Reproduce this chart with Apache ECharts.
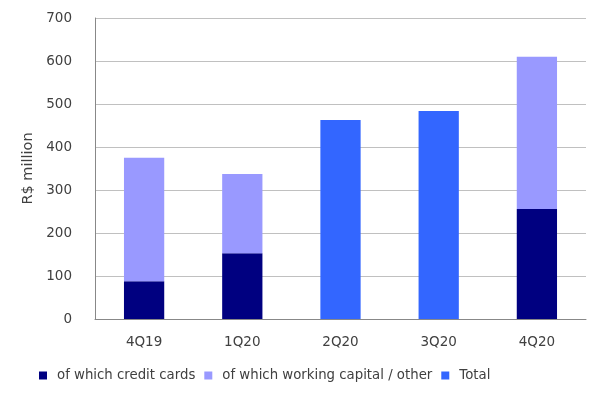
<!DOCTYPE html>
<html><head><meta charset="utf-8">
<script src="https://cdn.jsdelivr.net/npm/echarts@6/dist/echarts.min.js"></script>
<style>html,body{margin:0;padding:0;background:#fff}#c{width:604px;height:399px}</style>
</head><body><div id="c"></div>
<script>
const categories = ['4Q19', '1Q20', '2Q20', '3Q20', '4Q20'];
const creditCards = [88, 153, null, null, 256];
const workingCapital = [287, 184, null, null, 354];
const total = [null, null, 463, 484, null];
const yTicks = [0, 100, 200, 300, 400, 500, 600, 700];

const font = 'DejaVu Sans';
const chart = echarts.init(document.getElementById('c'));
chart.setOption({
  animation: false,
  textStyle: { fontFamily: font },
  grid: { left: 95, right: 18, top: 18, bottom: 80 },
  legend: {
    bottom: 12, left: 34, itemWidth: 8, itemHeight: 8, itemGap: 9,
    icon: 'rect',
    textStyle: { fontFamily: font, fontSize: 13.3, color: '#404040', padding: [0, 0, 0, 5] },
    data: ['of which credit cards', 'of which working capital / other', 'Total']
  },
  xAxis: {
    type: 'category', data: categories,
    axisLine: { lineStyle: { color: '#888', width: 1 } },
    axisTick: { show: false },
    axisLabel: { color: '#404040', fontSize: 13.5, margin: 16, fontFamily: font }
  },
  yAxis: {
    type: 'value', min: 0, max: 700, interval: 100,
    name: 'R$ million', nameLocation: 'middle', nameGap: 56,
    nameTextStyle: { color: '#404040', fontSize: 14.5, fontFamily: font },
    axisLine: { show: true, lineStyle: { color: '#888' } },
    axisTick: { show: false },
    axisLabel: { color: '#404040', fontSize: 13.5, margin: 23, fontFamily: font,
      formatter: v => yTicks.includes(v) ? String(v) : '' },
    splitLine: { lineStyle: { color: '#c0c0c0' } }
  },
  series: [
    { name: 'of which credit cards', type: 'bar', stack: 's', data: creditCards, barWidth: '41%', itemStyle: { color: '#000080' } },
    { name: 'of which working capital / other', type: 'bar', stack: 's', data: workingCapital, itemStyle: { color: '#9999ff' } },
    { name: 'Total', type: 'bar', stack: 's', data: total, itemStyle: { color: '#3366ff' } }
  ]
});
</script></body></html>
